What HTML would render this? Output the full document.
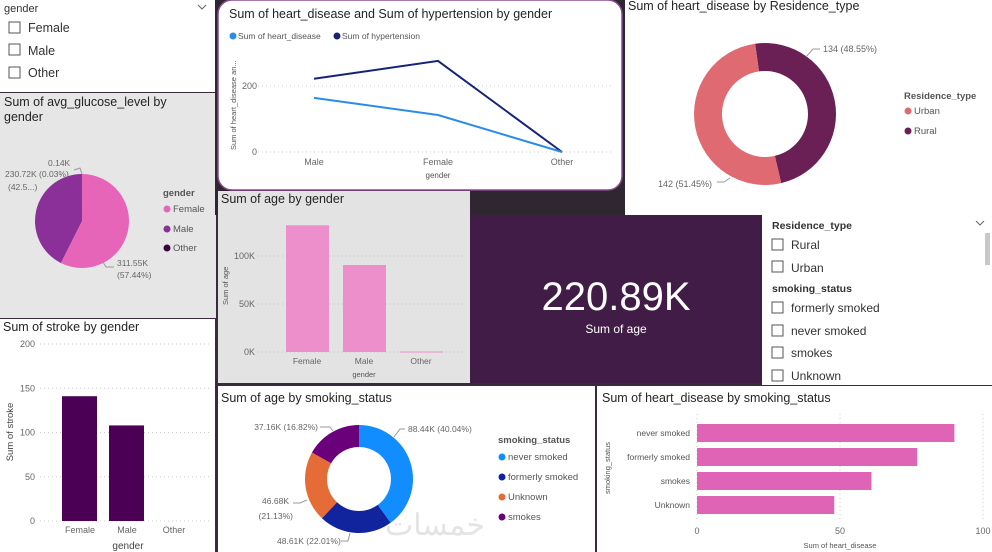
<!DOCTYPE html>
<html><head><meta charset="utf-8"><style>
html,body{margin:0;padding:0;width:992px;height:552px;overflow:hidden;background:#3b2a3e;font-family:"Liberation Sans",sans-serif}
svg text{font-family:"Liberation Sans",sans-serif}
</style></head><body>
<svg id="s" width="992" height="552" viewBox="0 0 992 552" xmlns="http://www.w3.org/2000/svg">
<!-- panels -->
<rect x="0" y="0" width="215" height="92" fill="#fff"/>
<rect x="0" y="93" width="216" height="225" fill="#e6e6e6"/>
<rect x="215" y="0" width="410" height="215" fill="#2f2632"/>
<rect x="218" y="0" width="404" height="190" rx="14" fill="#fff" stroke="#8a4a8e" stroke-width="1.5"/>
<rect x="625" y="0" width="367" height="215" fill="#fff"/>
<rect x="218" y="191" width="252" height="192" fill="#e3e3e3"/>
<rect x="470" y="215" width="292" height="168" fill="#401c46"/>
<rect x="762" y="215" width="230" height="170" fill="#fff"/>
<rect x="0" y="319" width="215" height="233" fill="#fff"/>
<rect x="218" y="386" width="377" height="166" fill="#fff"/>
<rect x="597" y="386" width="395" height="166" fill="#fff"/>

<!-- gender slicer -->
<text x="4" y="12" font-size="11" fill="#333">gender</text>
<path d="M198 5 l4 4 l4 -4" fill="none" stroke="#666"/>
<g font-size="12.5" fill="#333">
<rect x="9" y="22" width="11" height="11" fill="none" stroke="#555"/><text x="28" y="32">Female</text>
<rect x="9" y="44" width="11" height="11" fill="none" stroke="#555"/><text x="28" y="55">Male</text>
<rect x="9" y="67" width="11" height="11" fill="none" stroke="#555"/><text x="28" y="77">Other</text>
</g>

<!-- titles -->
<g font-size="12.5" fill="#252423">
<text x="4" y="106">Sum of avg_glucose_level by</text>
<text x="4" y="121">gender</text>
<text x="229" y="18">Sum of heart_disease and Sum of hypertension by gender</text>
<text x="628" y="10">Sum of heart_disease by Residence_type</text>
<text x="221" y="203">Sum of age by gender</text>
<text x="3" y="331">Sum of stroke by gender</text>
<text x="221" y="402">Sum of age by smoking_status</text>
<text x="602" y="402">Sum of heart_disease by smoking_status</text>
</g>

<!-- KPI -->
<text x="616" y="310" font-size="40" fill="#fff" text-anchor="middle">220.89K</text>
<text x="616" y="333" font-size="12" fill="#fff" text-anchor="middle">Sum of age</text>

<!-- right slicers -->
<text x="772" y="229" font-size="10.5" fill="#333" font-weight="bold">Residence_type</text>
<path d="M976 221 l4 4 l4 -4" fill="none" stroke="#666"/>
<rect x="985" y="233" width="5" height="32" fill="#c8c8c8"/>
<g font-size="12" fill="#333">
<rect x="772" y="239" width="11" height="11" fill="none" stroke="#555"/><text x="791" y="249">Rural</text>
<rect x="772" y="261" width="11" height="11" fill="none" stroke="#555"/><text x="791" y="272">Urban</text>
<text x="772" y="292" font-size="10.5" font-weight="bold">smoking_status</text>
<rect x="772" y="302" width="11" height="11" fill="none" stroke="#555"/><text x="791" y="312">formerly smoked</text>
<rect x="772" y="325" width="11" height="11" fill="none" stroke="#555"/><text x="791" y="335">never smoked</text>
<rect x="772" y="347" width="11" height="11" fill="none" stroke="#555"/><text x="791" y="357">smokes</text>
<rect x="772" y="370" width="11" height="11" fill="none" stroke="#555"/><text x="791" y="380">Unknown</text>
</g>
<text x="435" y="535" font-size="30" fill="#e4e4e4" text-anchor="middle" font-family="DejaVu Sans, sans-serif">خمسات</text>
<g id="charts"></g>
</svg>
<script>
// line chart
const lineCats = ['Male','Female','Other'];
const heartVals = [164, 112, 0];
const hyperVals = [222, 276, 0];
const lineTicks = [0, 200];
// residence donut
const resCats = ['Rural','Urban'];
const resVals = [134, 142];
const resLabels = ['134 (48.55%)','142 (51.45%)'];
// glucose pie
const glucCats = ['Female','Male','Other'];
const glucVals = [311.55, 230.72, 0.14];
// age bar
const ageCats = ['Female','Male','Other'];
const ageVals = [132, 90.6, 0.5];
const ageTicks = [0, 50, 100];
const ageTickLabels = ['0K','50K','100K'];
// stroke bar
const strokeCats = ['Female','Male','Other'];
const strokeVals = [141, 108, 0];
const strokeTicks = [0, 50, 100, 150, 200];
// smoking donut
const smokeCats = ['never smoked','formerly smoked','Unknown','smokes'];
const smokeVals = [88.44, 48.61, 46.68, 37.16];
// hbar
const hbCats = ['never smoked','formerly smoked','smokes','Unknown'];
const hbVals = [90, 77, 61, 48];
const hbTicks = [0, 50, 100];

const NS='http://www.w3.org/2000/svg';
const G=document.getElementById('charts');
function mk(tag, attrs, txt){const e=document.createElementNS(NS,tag);for(const k in attrs)e.setAttribute(k,attrs[k]);if(txt!==undefined)e.textContent=txt;G.appendChild(e);return e;}
function arc(cx,cy,r0,r1,a0,a1){
  const p=(r,a)=>[cx+r*Math.sin(a),cy-r*Math.cos(a)];
  const large=(a1-a0)>Math.PI?1:0;
  const [x1,y1]=p(r1,a0),[x2,y2]=p(r1,a1);
  if(r0<=0){return `M${cx},${cy}L${x1},${y1}A${r1},${r1} 0 ${large} 1 ${x2},${y2}Z`;}
  const [x3,y3]=p(r0,a1),[x4,y4]=p(r0,a0);
  return `M${x1},${y1}A${r1},${r1} 0 ${large} 1 ${x2},${y2}L${x3},${y3}A${r0},${r0} 0 ${large} 0 ${x4},${y4}Z`;
}
function drawDonut(vals,cols,cx,cy,r0,r1,start,name){
  const tot=vals.reduce((a,b)=>a+b,0);let a=start;
  vals.forEach((v,i)=>{const s=v/tot*Math.PI*2;const e=mk('path',{d:arc(cx,cy,r0,r1,a,a+s),fill:cols[i]});
    
    
    a+=s;});
}

// ---- line chart
{
  const y=v=>152-v*0.33; const x=i=>314+i*124;
  lineTicks.forEach(t=>{const l=mk('line',{x1:258,x2:612,y1:y(t),y2:y(t),stroke:'#ccc','stroke-dasharray':'1 3'});
    
    
    const tx=mk('text',{x:257,y:y(t)+3,'font-size':9,fill:'#666','text-anchor':'end'},t);
    
    });
  lineCats.forEach((c,i)=>{const t=mk('text',{x:x(i),y:165,'font-size':9,fill:'#666','text-anchor':'middle'},c);
    
    });
  const xt=mk('text',{x:438,y:178,'font-size':8,fill:'#555','text-anchor':'middle'},'gender');
  
  
  const yt=mk('text',{x:0,y:0,'font-size':7.5,fill:'#555',transform:'translate(236,150) rotate(-90)'},'Sum of heart_disease an...');
  
  
  const l1=mk('polyline',{points:hyperVals.map((v,i)=>x(i)+','+y(v)).join(' '),fill:'none',stroke:'#162379','stroke-width':2});
  
  
  const l2=mk('polyline',{points:heartVals.map((v,i)=>x(i)+','+y(v)).join(' '),fill:'none',stroke:'#2b8ce6','stroke-width':2});
  
  
  [['Sum of heart_disease','#2b8ce6',233],['Sum of hypertension','#162379',337]].forEach(([t,c,lx])=>{
    const d=mk('circle',{cx:lx,cy:36,r:3.5,fill:c});
    
    
    const tt=mk('text',{x:lx+5,y:39,'font-size':8.5,fill:'#555'},t);
    
    });
}
// ---- residence donut
{
  drawDonut(resVals,['#6b2055','#e06a72'],765,114,43,71,-8*Math.PI/180,'residence');
  const a=mk('path',{d:'M806 57 L813 49 L820 49',fill:'none',stroke:'#999'});
  
  
  const b=mk('path',{d:'M717 182 L724 182 L730 178',fill:'none',stroke:'#999'});
  
  
  const t1=mk('text',{x:823,y:52,'font-size':9,fill:'#666'},resLabels[0]);
  
  
  const t2=mk('text',{x:658,y:187,'font-size':9,fill:'#666'},resLabels[1]);
  
  
  const lt=mk('text',{x:904,y:99,'font-size':9.5,fill:'#555','font-weight':'bold'},'Residence_type');
  
  
  [['Urban','#e06a72',111],['Rural','#6b2055',131]].forEach(([t,c,ly])=>{
    const d=mk('circle',{cx:908,cy:ly,r:3.5,fill:c});
    
    
    const tt=mk('text',{x:914,y:ly+3,'font-size':9.5,fill:'#555'},t);
    
    });
}
// ---- glucose pie
{
  drawDonut(glucVals,['#e665b8','#8b3099','#3d0040'],82,221,0,47,0,'glucose');
  const txt=[['0.14K',48,166],['230.72K (0.03%)',5,177],['(42.5...)',8,190],['311.55K',117,266],['(57.44%)',117,278]];
  txt.forEach(([t,tx,ty])=>{const e=mk('text',{x:tx,y:ty,'font-size':8.5,fill:'#666'},t);
    
    });
  const ld=mk('path',{d:'M74 170 L80 168 L82 174 M103 262 L106 267 L114 267',fill:'none',stroke:'#999'});
  
  
  const lt=mk('text',{x:163,y:196,'font-size':9.5,fill:'#555','font-weight':'bold'},'gender');
  
  
  [['Female','#e665b8',209],['Male','#8b3099',229],['Other','#3d0040',248]].forEach(([t,c,ly])=>{
    const d=mk('circle',{cx:167,cy:ly,r:3.5,fill:c});
    
    
    const tt=mk('text',{x:173,y:ly+3,'font-size':9.5,fill:'#555'},t);
    
    });
}
// ---- age bar
{
  const y=v=>352-v*0.96; const cx=i=>307+i*57;
  ageTicks.forEach((t,i)=>{const l=mk('line',{x1:258,x2:465,y1:y(t),y2:y(t),stroke:'#c4c4c4','stroke-dasharray':'1 3'});
    
    
    const tx=mk('text',{x:255,y:y(t)+3,'font-size':9,fill:'#666','text-anchor':'end'},ageTickLabels[i]);
    
    });
  ageVals.forEach((v,i)=>{const r=mk('rect',{x:cx(i)-21,y:y(v),width:43,height:Math.max(1,v*0.96),fill:'#ec8fcb'});
    
    
    const t=mk('text',{x:cx(i),y:364,'font-size':8.5,fill:'#666','text-anchor':'middle'},ageCats[i]);
    
    });
  const xt=mk('text',{x:364,y:377,'font-size':7.5,fill:'#555','text-anchor':'middle'},'gender');
  
  
  const yt=mk('text',{x:0,y:0,'font-size':7.5,fill:'#555',transform:'translate(228,305) rotate(-90)'},'Sum of age');
  
  
}
// ---- stroke bar
{
  const y=v=>521-v*0.885; const cx=i=>80+i*47;
  strokeTicks.forEach(t=>{const l=mk('line',{x1:40,x2:212,y1:y(t),y2:y(t),stroke:'#ccc','stroke-dasharray':'1 3'});
    
    
    const tx=mk('text',{x:35,y:y(t)+3,'font-size':9,fill:'#666','text-anchor':'end'},t);
    
    });
  strokeVals.forEach((v,i)=>{const r=mk('rect',{x:cx(i)-18,y:y(v),width:35,height:v*0.885,fill:'#4b0055'});
    
    
    const t=mk('text',{x:cx(i),y:533,'font-size':9,fill:'#666','text-anchor':'middle'},strokeCats[i]);
    
    });
  const xt=mk('text',{x:128,y:549,'font-size':10,fill:'#444','text-anchor':'middle'},'gender');
  
  
  const yt=mk('text',{x:0,y:0,'font-size':9.5,fill:'#444','text-anchor':'middle',transform:'translate(13,432) rotate(-90)'},'Sum of stroke');
  
  
}
// ---- smoking donut
{
  drawDonut(smokeVals,['#118dff','#12239e','#e66c37','#6b007b'],359,479,32,54,0,'smoking');
  const lab=[['88.44K (40.04%)',408,432,'start'],['37.16K (16.82%)',318,430,'end'],['46.68K',289,504,'end'],['(21.13%)',293,519,'end'],['48.61K (22.01%)',277,544,'start']];
  lab.forEach(([t,tx,ty,an])=>{const e=mk('text',{x:tx,y:ty,'font-size':8.5,fill:'#666','text-anchor':an},t);
    
    });
  const ld=mk('path',{d:'M394 437 L400 429 L405 429 M320 427 L330 427 L333 431 M293 503 L300 503 L307 500 M341 541 L348 541 L350 533',fill:'none',stroke:'#999'});
  
  
  const lt=mk('text',{x:498,y:443,'font-size':9.5,fill:'#555','font-weight':'bold'},'smoking_status');
  
  
  const lc=['#118dff','#12239e','#e66c37','#6b007b'];
  smokeCats.forEach((c,i)=>{const ly=457+i*20;
    const d=mk('circle',{cx:502,cy:ly,r:3.5,fill:lc[i]});
    
    
    const tt=mk('text',{x:508,y:ly+3,'font-size':9.5,fill:'#555'},c);
    
    });
}
// ---- hbar
{
  const x=v=>697+v*2.86; const cy=i=>433+i*24;
  hbTicks.forEach(t=>{const l=mk('line',{x1:x(t),x2:x(t),y1:414,y2:522,stroke:'#ccc','stroke-dasharray':'1 3'});
    
    
    const tx=mk('text',{x:x(t),y:534,'font-size':9,fill:'#666','text-anchor':'middle'},t);
    
    });
  hbVals.forEach((v,i)=>{const r=mk('rect',{x:697,y:cy(i)-9,width:v*2.86,height:18,fill:'#e064b5'});
    
    
    const t=mk('text',{x:690,y:cy(i)+3,'font-size':8.5,fill:'#555','text-anchor':'end'},hbCats[i]);
    
    });
  const xt=mk('text',{x:840,y:548,'font-size':7.5,fill:'#555','text-anchor':'middle'},'Sum of heart_disease');
  
  
  const yt=mk('text',{x:0,y:0,'font-size':7.5,fill:'#555','text-anchor':'middle',transform:'translate(610,468) rotate(-90)'},'smoking_status');
  
  
}
</script>
</body></html>
